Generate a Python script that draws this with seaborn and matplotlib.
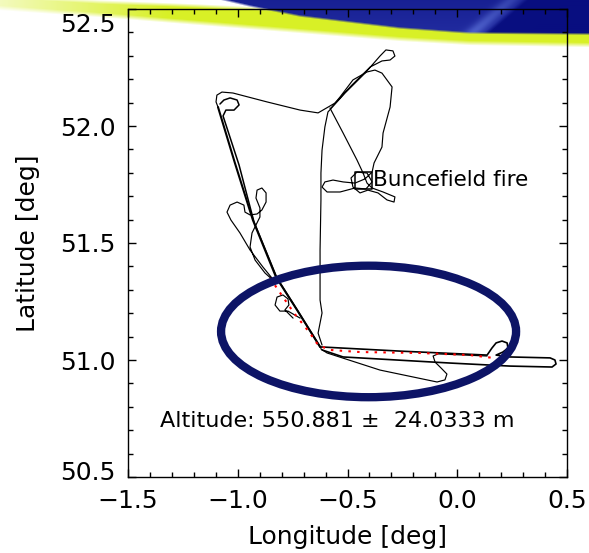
import numpy as np
import matplotlib
matplotlib.use("Agg")
import matplotlib.pyplot as plt
import matplotlib.transforms as mtransforms
from matplotlib.patches import Ellipse
from matplotlib.ticker import MultipleLocator, FormatStrFormatter
import seaborn as sns

sns.set_theme(style="ticks")
plt.rcParams['font.family'] = ['DejaVu Sans']

# ---------------------------------------------------------------- flight track
# northbound run: vertical leg, loop at the top, then west to the turn point
north_lon = [-0.616, -0.634, -0.616, -0.625, -0.625, -0.621, -0.621, -0.616, -0.603,
             -0.589, -0.511, -0.420, -0.352, -0.325, -0.293, -0.284, -0.306, -0.343,
             -0.397, -0.480, -0.557, -0.634, -0.716, -0.867, -1.022, -1.072, -1.095,
             -1.099, -1.090]
north_lat = [51.064, 51.115, 51.201, 51.256, 51.470, 51.684, 51.799, 51.897, 51.996,
             52.060, 52.141, 52.226, 52.299, 52.325, 52.321, 52.299, 52.282, 52.278,
             52.252, 52.175, 52.098, 52.056, 52.068, 52.103, 52.141, 52.145, 52.132,
             52.103, 52.081]

# south-east run down the western side (two passes)
west_a_lon = [-1.090, -1.013, -0.931, -0.826, -0.730, -0.625]
west_a_lat = [52.081, 51.842, 51.598, 51.355, 51.214, 51.056]
west_b_lon = [-1.081, -1.063, -1.035, -1.003, -0.994, -1.017, -1.054, -1.067, -0.994,
              -0.926, -0.821, -0.726, -0.621]
west_b_lat = [52.094, 52.111, 52.120, 52.111, 52.090, 52.068, 52.068, 52.043, 51.833,
              51.590, 51.350, 51.209, 51.051]

# loops flown near 51.6N on the western leg
loops_lon = [-0.830, -0.876, -0.921, -0.944, -0.935, -0.899, -0.899, -0.917, -0.912,
             -0.890, -0.871, -0.871, -0.890, -0.912, -0.944, -0.967, -0.972, -1.003,
             -1.035, -1.049, -1.031, -0.990, -0.944, -0.885, -0.844]
loops_lat = [51.333, 51.372, 51.427, 51.483, 51.543, 51.611, 51.650, 51.692, 51.726,
             51.735, 51.714, 51.675, 51.641, 51.624, 51.620, 51.632, 51.662, 51.675,
             51.662, 51.632, 51.598, 51.543, 51.470, 51.397, 51.350]

orbit_lon = [-0.716, -0.771, -0.808, -0.830, -0.821, -0.794, -0.771, -0.767, -0.785, -0.748]
orbit_lat = [51.179, 51.209, 51.209, 51.235, 51.269, 51.278, 51.261, 51.235, 51.214, 51.179]

# survey around the fire site
fire_lon = [-0.580, -0.520, -0.457, -0.429, -0.411, -0.388, -0.338, -0.284, -0.288,
            -0.320, -0.361, -0.407, -0.443, -0.475, -0.484, -0.457, -0.411, -0.388,
            -0.416, -0.466, -0.534, -0.593, -0.616, -0.603, -0.566, -0.520, -0.466,
            -0.420, -0.388, -0.379, -0.343, -0.338, -0.306, -0.297, -0.343, -0.375,
            -0.411, -0.475, -0.534, -0.575]
fire_lat = [52.077, 51.970, 51.855, 51.799, 51.756, 51.735, 51.718, 51.697, 51.675,
            51.684, 51.714, 51.726, 51.714, 51.739, 51.778, 51.803, 51.799, 51.761,
            51.731, 51.735, 51.718, 51.718, 51.739, 51.761, 51.769, 51.761, 51.756,
            51.774, 51.803, 51.842, 51.910, 51.970, 52.081, 52.167, 52.226, 52.239,
            52.231, 52.197, 52.124, 52.077]

# eastbound legs from the turn point
east1_lon = [-0.625, -0.261, 0.136, 0.158, 0.177, 0.204, 0.227, 0.231, 0.208, 0.177,
             0.240, 0.423, 0.445, 0.450, 0.432, 0.240, -0.033, -0.520, -0.616]
east1_lat = [51.056, 51.038, 51.021, 51.051, 51.073, 51.081, 51.073, 51.051, 51.034,
             51.021, 51.013, 51.009, 51.000, 50.983, 50.970, 50.974, 50.987, 51.013, 51.043]
east2_lon = [-0.621, -0.593, -0.352, -0.092, -0.056, -0.047, -0.074, -0.101, -0.110,
             -0.088, 0.136]
east2_lat = [51.047, 51.030, 50.957, 50.906, 50.915, 50.940, 50.966, 50.991, 51.017,
             51.026, 51.017]

# low-level segment (highlighted)
low_lon = [-0.853, -0.744, -0.671, -0.634, -0.580, -0.443, -0.170, 0.058, 0.163]
low_lat = [51.350, 51.201, 51.115, 51.064, 51.043, 51.034, 51.030, 51.021, 51.009]

site_lon = [-0.429]
site_lat = [51.769]
site_name = "Buncefield fire"

altitude_mean = 550.881
altitude_sd = 24.0333

region_center = (-0.404, 51.122)
region_size = (1.344, 0.562)

x_ticks = [-1.5, -1.0, -0.5, 0.0, 0.5]
y_ticks = [50.5, 51.0, 51.5, 52.0, 52.5]

# ---------------------------------------------------------------- figure
W, H, DPI = 589, 553, 100
fig = plt.figure(figsize=(W / DPI, H / DPI), dpi=DPI)
fig.patch.set_facecolor("white")

# banner across the top edge
bg = fig.add_axes([0, 0, 1, 1], zorder=0)
px = np.arange(W) + 0.5
py = (np.arange(H) + 0.5)[:, None]


def ramp(t, w):
    return np.clip(t / w + 0.5, 0.0, 1.0)


yel_bot = np.interp(px, [0, 100, 200, 300, 400, 470, 589], [8, 15, 23, 31, 39, 43, 45])
yel_top = np.interp(px, [0, 100, 200, 260, 589], [-4, 2, 6, 9, 14])
blu_bot = np.interp(px, [195, 220, 250, 300, 400, 470, 589], [-6, -1, 6, 16, 28, 33, 34])
yel_strength = np.clip(0.3 + px / 240.0, 0, 1)

img = np.ones((H, W, 3))
yellow = np.array([216, 240, 38]) / 255.0
a_y = ramp(yel_bot - py, 5.0) * ramp(py - yel_top, 4.0) * yel_strength
img = img * (1 - a_y[..., None]) + yellow * a_y[..., None]

blue = np.array([32, 42, 158]) / 255.0
dark = np.array([8, 14, 128]) / 255.0
light = np.array([85, 105, 210]) / 255.0
# diagonal sheen line through (525, 0) and (485, 34)
d = (px - 525) + (py - 0) * (40 / 34.0)
mix_dark = ramp(d, 6.0)
sheen = np.exp(-((d + 14) / 9.0) ** 2) * 0.8
base = blue * (1 - mix_dark[..., None]) + dark * mix_dark[..., None]
base = base * (1 - sheen[..., None]) + light * sheen[..., None]
top_dark = np.clip(1 - py / 30.0, 0, 1) * 0.35
base = base * (1 - top_dark[..., None]) + dark * top_dark[..., None]
a_b = ramp(blu_bot - py, 2.5)
img = img * (1 - a_b[..., None]) + base * a_b[..., None]

bg.imshow(img, extent=[0, W, H, 0], aspect="auto", interpolation="bilinear")
bg.set_xlim(0, W)
bg.set_ylim(H, 0)
bg.axis("off")

# map panel
ax = fig.add_axes([128 / W, 1 - 477 / H, (567 - 128) / W, (477 - 9) / H], zorder=1)
ax.patch.set_alpha(0)

line_kw = dict(sort=False, estimator=None, color="black", ax=ax, legend=False)
sns.lineplot(x=west_a_lon, y=west_a_lat, linewidth=1.5, **line_kw)
sns.lineplot(x=west_b_lon, y=west_b_lat, linewidth=1.1, **line_kw)
sns.lineplot(x=north_lon, y=north_lat, linewidth=0.85, **line_kw)
sns.lineplot(x=loops_lon, y=loops_lat, linewidth=0.85, **line_kw)
sns.lineplot(x=orbit_lon, y=orbit_lat, linewidth=0.85, **line_kw)
sns.lineplot(x=fire_lon, y=fire_lat, linewidth=0.85, **line_kw)
sns.lineplot(x=east1_lon, y=east1_lat, linewidth=1.2, **line_kw)
sns.lineplot(x=east2_lon, y=east2_lat, linewidth=0.85, **line_kw)

red_ax = sns.lineplot(x=low_lon, y=low_lat, sort=False, estimator=None, color="red",
                      linewidth=1.5, ax=ax, legend=False)
red_ax.lines[-1].set_dashes([1.2, 3.0])

sns.scatterplot(x=site_lon, y=site_lat, marker="s", s=150, facecolors="none",
                edgecolor="black", linewidth=1.1, ax=ax, legend=False, zorder=5)
ax.text(site_lon[0] + 0.047, site_lat[0], site_name, fontsize=15.5,
        ha="left", va="center", color="black")

ax.text(-1.355, 50.738, f"Altitude: {altitude_mean} \u00b1  {altitude_sd} m",
        fontsize=16, ha="left", va="center", color="black")

ax.add_patch(Ellipse(region_center, region_size[0], region_size[1], fill=False,
                     edgecolor="#0d1466", linewidth=6.0, zorder=6))

ax.set_xlim(-1.5, 0.5)
ax.set_ylim(50.5, 52.5)
ax.set_xticks(x_ticks)
ax.set_yticks(y_ticks)
ax.xaxis.set_minor_locator(MultipleLocator(0.1))
ax.yaxis.set_minor_locator(MultipleLocator(0.1))
ax.yaxis.set_major_formatter(FormatStrFormatter("%.1f"))
ax.set_xticklabels([f"{v:.1f}".replace("-", "\u2212") for v in x_ticks])

ax.tick_params(which="both", direction="in", top=True, right=True, color="black",
               width=1.0, labelsize=18, labelcolor="black", pad=9)
ax.tick_params(which="major", length=6)
ax.tick_params(which="minor", length=3.5)
for sp in ax.spines.values():
    sp.set_visible(True)
    sp.set_color("black")
    sp.set_linewidth(1.0)

ax.set_xlabel("Longitude [deg]", fontsize=18, color="black")
ax.set_ylabel("Latitude [deg]", fontsize=18, color="black")
ax.xaxis.set_label_coords(0.5, -0.103)
ax.yaxis.set_label_coords(-0.2, 0.5)

ylabels = ax.get_yticklabels()
ylabels[-1].set_transform(ylabels[-1].get_transform()
                          + mtransforms.ScaledTranslation(0, -0.13, fig.dpi_scale_trans))
ylabels[0].set_transform(ylabels[0].get_transform()
                         + mtransforms.ScaledTranslation(0, 0.07, fig.dpi_scale_trans))

fig.savefig("out.png", dpi=DPI, facecolor="white")
